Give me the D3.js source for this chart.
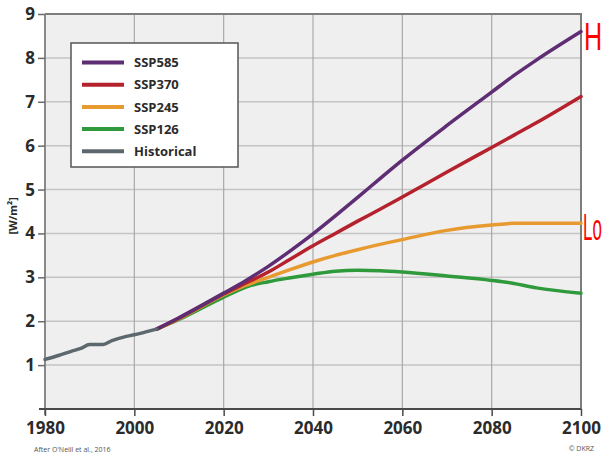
<!DOCTYPE html>
<html>
<head>
<meta charset="utf-8">
<script src="https://cdn.jsdelivr.net/npm/d3@7"></script>
<style>
  body { margin: 0; background: #fff; }
  svg { display: block; font-family: "Open Sans", "Liberation Sans", sans-serif; }
</style>
</head>
<body>
<div id="main"></div>
<script>
// data
const histYears = [1980, 1983, 1986, 1988, 1990, 1993, 1995, 1998, 2000, 2002, 2005]
const histVals  = [1.13, 1.22, 1.32, 1.38, 1.47, 1.47, 1.56, 1.65, 1.69, 1.74, 1.82]

const futYears = [2005, 2010, 2020, 2025, 2030, 2035, 2040, 2045, 2050, 2055, 2060, 2070, 2080, 2085, 2090, 2100]
const ssp585 = [1.82, 2.08, 2.64, 2.93, 3.25, 3.61, 3.99, 4.40, 4.82, 5.25, 5.67, 6.46, 7.22, 7.60, 7.95, 8.60]
const ssp370 = [1.82, 2.07, 2.62, 2.87, 3.12, 3.42, 3.72, 4.00, 4.28, 4.55, 4.83, 5.40, 5.96, 6.24, 6.52, 7.12]
const ssp245 = [1.82, 2.06, 2.60, 2.82, 3.00, 3.18, 3.35, 3.50, 3.63, 3.75, 3.86, 4.07, 4.19, 4.23, 4.23, 4.23]
const ssp126 = [1.82, 2.04, 2.55, 2.78, 2.90, 2.99, 3.07, 3.14, 3.16, 3.15, 3.12, 3.03, 2.93, 2.86, 2.76, 2.64]

const seriesNames  = ["SSP585", "SSP370", "SSP245", "SSP126", "Historical"]
const seriesColors = ["#5e2d73", "#b5222e", "#e79a2f", "#2f9a3b", "#5c686d"]
const xTicks = [1980, 2000, 2020, 2040, 2060, 2080, 2100]
const yTicks = [1, 2, 3, 4, 5, 6, 7, 8, 9]

const width = 606, height = 456

const svg = d3.select("#main").append("svg")
    .attr("width", width)
    .attr("height", height)

const x = d3.scaleLinear().domain([1980, 2100]).range([45, 581])
const y = d3.scaleLinear().domain([0, 9]).range([409, 14])

// plot background
svg.append("rect")
   .attr("x", x(1980)).attr("y", y(9))
   .attr("width", x(2100) - x(1980)).attr("height", y(0) - y(9))
   .attr("fill", "#efefef")

// grid
svg.append("g").selectAll("line")
   .data(yTicks.slice(0, -1))
   .enter().append("line")
   .attr("x1", x(1980)).attr("x2", x(2100))
   .attr("y1", d => y(d)).attr("y2", d => y(d))
   .attr("stroke", "#c4c4c4").attr("stroke-width", 1.5)

svg.append("g").selectAll("line")
   .data(xTicks.slice(1, -1))
   .enter().append("line")
   .attr("x1", d => x(d)).attr("x2", d => x(d))
   .attr("y1", y(9)).attr("y2", y(0))
   .attr("stroke", "#a9a9a9").attr("stroke-width", 1.2)

// frame top / right
svg.append("path")
   .attr("d", `M${x(1980)},${y(9)}H${x(2100)}V${y(0)}`)
   .attr("fill", "none").attr("stroke", "#7d7d7d").attr("stroke-width", 2)

// y axis
const yAxis = d3.axisLeft(y).tickValues(yTicks).tickSize(7).tickPadding(3).tickFormat(d3.format("d"))
const gy = svg.append("g")
   .attr("transform", `translate(${x(1980)},0)`)
   .call(yAxis)
gy.select(".domain").attr("stroke", "#8a8a8a").attr("stroke-width", 2).attr("d", `M0,${y(9)}V${y(0) + 6}`)
gy.selectAll(".tick line").attr("stroke", "#6b6b6b").attr("stroke-width", 1.5)
gy.selectAll(".tick text")
  .attr("font-size", 17).attr("font-weight", "bold").attr("fill", "#2b2b2b")
  .attr("font-family", "'Open Sans', 'Liberation Sans', sans-serif")

// x axis
const xAxis = d3.axisBottom(x).tickValues(xTicks).tickSize(7).tickPadding(6).tickFormat(d3.format("d"))
const gx = svg.append("g")
   .attr("transform", `translate(0,${y(0)})`)
   .call(xAxis)
gx.select(".domain").attr("stroke", "#4a4a4a").attr("stroke-width", 2).attr("d", `M${x(1980) - 6},0H${x(2100)}`)
gx.selectAll(".tick line").attr("stroke", "#4a4a4a").attr("stroke-width", 1.5)
gx.selectAll(".tick text")
  .attr("font-size", 17).attr("font-weight", "bold").attr("fill", "#2b2b2b")
  .attr("font-family", "'Open Sans', 'Liberation Sans', sans-serif")

// y title
svg.append("text")
   .attr("transform", `translate(17,${y(4.4)}) rotate(-90)`)
   .attr("text-anchor", "middle")
   .attr("font-size", 11).attr("font-weight", "bold").attr("fill", "#2b2b2b")
   .text("[W/m²]")

// lines
const line = d3.line()
   .x(d => x(d[0]))
   .y(d => y(d[1]))
   .curve(d3.curveMonotoneX)

const futSeries = [ssp126, ssp245, ssp370, ssp585]
const futColors = [seriesColors[3], seriesColors[2], seriesColors[1], seriesColors[0]]

svg.append("g").selectAll("path")
   .data(futSeries)
   .enter().append("path")
   .attr("d", vals => line(futYears.map((yr, i) => [yr, vals[i]])))
   .attr("fill", "none")
   .attr("stroke", (d, i) => futColors[i])
   .attr("stroke-width", 3.5)
   .attr("stroke-linecap", "round")

svg.append("path")
   .attr("d", line(histYears.map((yr, i) => [yr, histVals[i]])))
   .attr("fill", "none")
   .attr("stroke", seriesColors[4])
   .attr("stroke-width", 3.5)
   .attr("stroke-linecap", "round")

// legend
const legend = svg.append("g")
legend.append("rect")
   .attr("x", 71).attr("y", 43).attr("width", 167).attr("height", 124)
   .attr("fill", "#fff").attr("stroke", "#555").attr("stroke-width", 1.5)

const rows = legend.selectAll("g.row")
   .data(seriesNames)
   .enter().append("g")
   .attr("class", "row")
   .attr("transform", (d, i) => `translate(0,${62.5 + i * 22.2})`)
rows.append("line")
   .attr("x1", 82).attr("x2", 124)
   .attr("stroke", (d, i) => seriesColors[i]).attr("stroke-width", 4)
rows.append("text")
   .attr("x", 134).attr("dy", "0.36em")
   .attr("font-size", 13).attr("font-weight", "bold").attr("fill", "#2b2b2b")
   .text(d => d)

// credits
svg.append("text")
   .attr("x", 34).attr("y", 452)
   .attr("font-size", 7).attr("fill", "#555")
   .text("After O'Neill et al., 2016")
svg.append("text")
   .attr("x", 594).attr("y", 451)
   .attr("text-anchor", "end")
   .attr("font-size", 7).attr("fill", "#555")
   .text("© DKRZ")

// red labels at the right edge (squeezed to stay inside the window)
svg.append("text")
   .attr("transform", "translate(584,50) scale(0.66,1)")
   .attr("font-size", 38).attr("fill", "#ff0000")
   .attr("font-family", "'Liberation Sans', Arial, sans-serif")
   .text("H")
svg.append("text")
   .attr("transform", "translate(583,240) scale(0.47,1)")
   .attr("font-size", 36).attr("fill", "#ff0000")
   .attr("font-family", "'Liberation Sans', Arial, sans-serif")
   .text("Lo")
</script>
</body>
</html>
